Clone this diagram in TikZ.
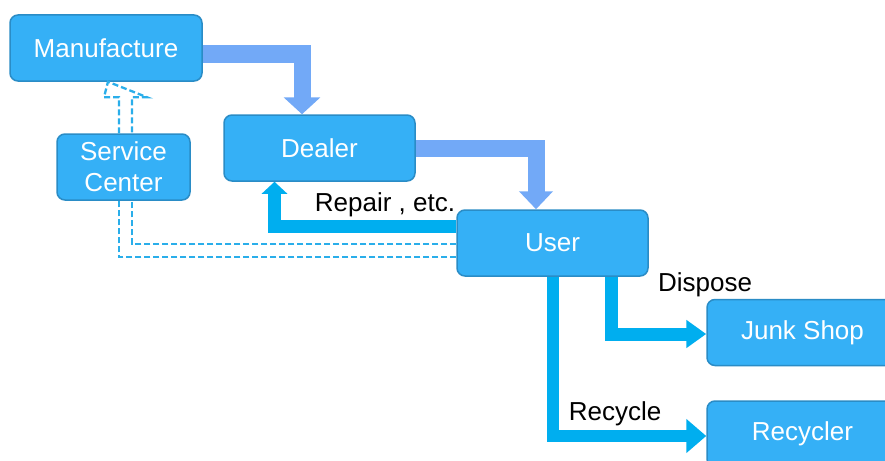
\documentclass[tikz,border=0pt]{standalone}
\usepackage{fontspec}
\setmainfont{Liberation Sans}
\usetikzlibrary{arrows.meta,calc}
\definecolor{boxfill}{HTML}{35B0F6}
\definecolor{boxline}{HTML}{2A8CC6}
\definecolor{lightarr}{HTML}{72A9F7}
\definecolor{brightarr}{HTML}{00AEEF}
\definecolor{dasharr}{HTML}{2AAEEA}
\begin{document}
\begin{tikzpicture}[x=1pt,y=-1pt,
  blk/.style={draw=boxline,line width=1.5pt,fill=boxfill,rounded corners=8pt,
    text=white,font=\fontsize{26}{30}\selectfont,minimum height=66pt,inner sep=0pt,align=center},
  lbl/.style={font=\fontsize{26}{30}\selectfont,text=black,inner sep=0pt},
  flowL/.style={draw=lightarr,line width=17pt},
  flowB/.style={draw=brightarr},
  dsh/.style={draw=dasharr,line width=2.3pt,dash pattern=on 6pt off 3pt}]
\useasboundingbox (0,0) rectangle (885,460);
\fill[white] (0,0) rectangle (885,460);
% boxes
\node[blk,minimum width=192pt] (man) at (106,48) {Manufacture};
\node[blk,minimum width=133pt,font=\fontsize{26}{31}\selectfont] (svc) at (123.5,167) {Service\\Center};
\node[blk,minimum width=191pt] (dea) at (319.5,148) {Dealer};
\node[blk,minimum width=191pt] (usr) at (552.5,243) {User};
\node[blk,minimum width=191pt] (jnk) at (802.5,332.5) {Junk Shop};
\node[blk,minimum width=191pt] (rec) at (802.5,434) {Recycler};
% light arrows
\draw[flowL,-{Triangle[width=36pt,length=17pt]}] ($(man.east)+(0,6)$) -| ([xshift=-17.5pt]dea.north);
\draw[flowL,-{Triangle[width=33pt,length=18pt]}] (dea.east) -| ([xshift=-16.5pt]usr.north);
% repair arrow
\draw[flowB,line width=13pt,-{Triangle[width=25pt,length=12pt]}] ($(usr.west)+(0,-16.5)$) -| ([xshift=-45pt]dea.south);
% dispose
\draw[flowB,line width=13pt,-{Triangle[width=27pt,length=20pt]}] ([xshift=59pt]usr.south) |- ($(jnk.west)+(0,1.5)$);
% recycle
\draw[flowB,line width=12pt,-{Triangle[width=33pt,length=20pt]}] (usr.south) |- ($(rec.west)+(0,2)$);
% dashed hollow arrows
\draw[dsh] ($(usr.west)+(0,14)$) -| ([xshift=-4.5pt]svc.south);
\draw[dsh] ($(usr.west)+(0,1)$) -| ([xshift=8.5pt]svc.south);
\coordinate (tip) at ([xshift=2pt]man.south);
\draw[dsh] ([xshift=-4.5pt]svc.north) -- ($(svc.north)+(-4.5,-36)$) -- ($(svc.north)+(-19.5,-36)$)
  -- (tip) -- ($(svc.north)+(23.5,-36)$) -- ($(svc.north)+(8.5,-36)$) -- ([xshift=8.5pt]svc.north);
% labels
\node[lbl] (lrep) at (385,205) {Repair , etc.};
\node[lbl] (ldis) at (705,285) {Dispose};
\node[lbl] (lrec) at (615,414) {Recycle};
\end{tikzpicture}
\end{document}
